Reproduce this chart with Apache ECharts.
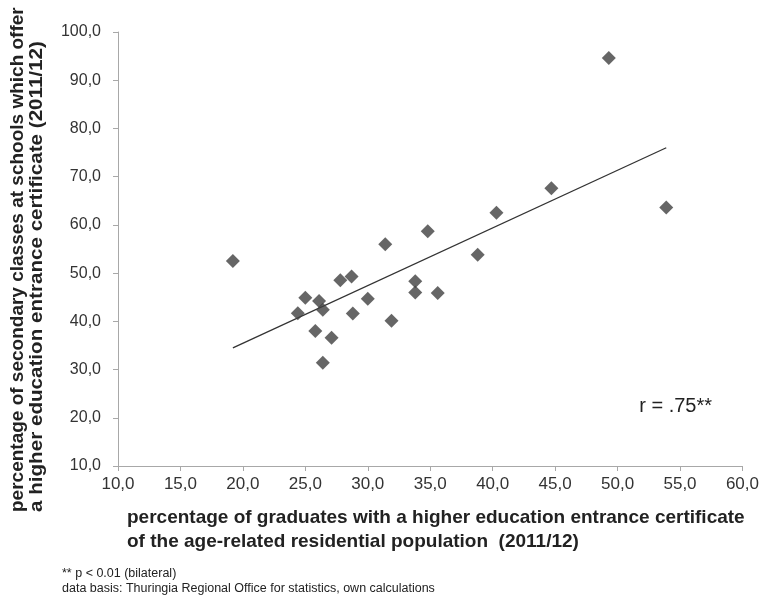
<!DOCTYPE html>
<html><head><meta charset="utf-8">
<script src="https://cdn.jsdelivr.net/npm/echarts@6/dist/echarts.min.js"></script>
<style>html,body{margin:0;padding:0;background:#fff}#c{width:762px;height:598px}</style>
</head><body><div id="c"></div>
<script>
var xValues = [19.2,24.4,25.0,26.1,26.4,25.8,27.1,26.4,27.8,28.7,28.8,30.0,31.4,31.9,33.8,33.8,35.6,34.8,38.8,40.3,44.7,49.3,53.9];
var yValues = [52.5,41.7,44.9,44.2,42.4,38.0,36.6,31.4,48.5,49.3,41.6,44.7,56.0,40.1,48.3,46.0,45.9,58.7,53.8,62.5,67.6,94.6,63.6];
var trendX = [19.2, 53.9];
var trendY = [34.5, 76.0];
var xTicks = [10,15,20,25,30,35,40,45,50,55,60];
var yTicks = [10,20,30,40,50,60,70,80,90,100];

var pts = xValues.map(function(x,i){return [x,yValues[i]];});
var trend = trendX.map(function(x,i){return [x,trendY[i]];});
function fmt(v){return v.toFixed(1).replace('.',',');}
var FONT = '"Liberation Sans", Arial, sans-serif';
var chart = echarts.init(document.getElementById('c'));
chart.setOption({
  animation:false,
  backgroundColor:'#fff',
  grid:{left:118,right:19,top:32,bottom:132,containLabel:false},
  xAxis:{type:'value',min:xTicks[0],max:xTicks[xTicks.length-1],interval:5,
    axisLine:{show:true,lineStyle:{color:'#a8a8a8',width:1}},
    axisTick:{show:true,length:5,lineStyle:{color:'#a8a8a8'}},
    splitLine:{show:false},
    axisLabel:{formatter:fmt,color:'#333',fontSize:17,fontFamily:FONT,margin:10}},
  yAxis:{type:'value',min:yTicks[0],max:yTicks[yTicks.length-1],interval:10,
    axisLine:{show:true,lineStyle:{color:'#a8a8a8',width:1}},
    axisTick:{show:true,length:5,lineStyle:{color:'#a8a8a8'}},
    splitLine:{show:false},
    axisLabel:{formatter:fmt,color:'#333',fontSize:16,fontFamily:FONT,margin:17}},
  series:[
    {type:'line',data:trend,symbol:'none',lineStyle:{color:'#333',width:1.3},z:1},
    {type:'scatter',data:pts,symbol:'diamond',symbolSize:[14,14],itemStyle:{color:'#404040'},z:2}
  ],
  graphic:[
    {type:'text',x:712,y:406,style:{text:'r = .75**',fontSize:20,fontFamily:FONT,fill:'#222',align:'right',verticalAlign:'middle'}},
    {type:'text',x:127,y:506,style:{text:'percentage of graduates with a higher education entrance certificate\nof the age-related residential population  (2011/12)',fontSize:19,fontWeight:'bold',fontFamily:FONT,fill:'#222',lineHeight:24}},
    {type:'text',x:62,y:566,style:{text:'** p < 0.01 (bilateral)\ndata basis: Thuringia Regional Office for statistics, own calculations',fontSize:12.5,fontFamily:FONT,fill:'#222',lineHeight:15}},
    {type:'text',x:18,y:512,rotation:Math.PI/2,style:{text:'percentage of secondary classes at schools which offer',fontSize:19,fontWeight:'bold',fontFamily:FONT,fill:'#222',align:'left',verticalAlign:'middle'}},
    {type:'text',x:37,y:512,rotation:Math.PI/2,scaleX:1.085,style:{text:'a higher education entrance certificate (2011/12)',fontSize:19,fontWeight:'bold',fontFamily:FONT,fill:'#222',align:'left',verticalAlign:'middle'}}
  ]
});
</script></body></html>
